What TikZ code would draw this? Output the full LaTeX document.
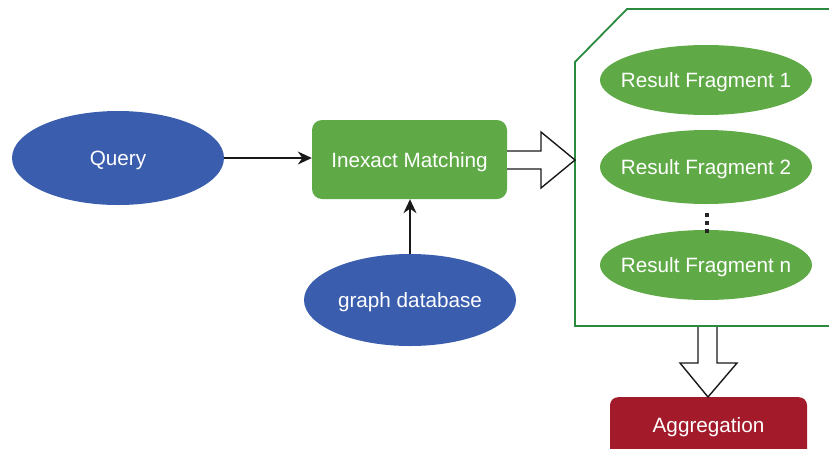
\documentclass[tikz,border=0pt]{standalone}
\usepackage{fontspec}
\setmainfont{Liberation Sans}
\usetikzlibrary{shapes.geometric,arrows.meta}
\definecolor{qblue}{HTML}{3A5DAE}
\definecolor{mgreen}{HTML}{5FAA46}
\definecolor{fgreen}{HTML}{2A8A3E}
\definecolor{agred}{HTML}{A31B2A}
\newcommand{\lowt}[1]{\raisebox{-2.5pt}[\height][\depth]{#1}}
\tikzset{
  txt/.style={text=white,font=\fontsize{20.7}{24}\selectfont},
  blueell/.style={ellipse,fill=qblue,inner sep=0pt,inner xsep=-14pt,minimum width=212pt,minimum height=94pt,txt},
  greenell/.style={ellipse,fill=mgreen,inner sep=0pt,inner xsep=-14pt,minimum width=212pt,minimum height=70pt,txt},
  greenbox/.style={rectangle,rounded corners=10pt,fill=mgreen,inner sep=0pt,minimum width=195pt,minimum height=79pt,txt},
  redbox/.style={rectangle,rounded corners=8pt,fill=agred,inner sep=0pt,minimum width=197pt,minimum height=78pt,txt},
  conn/.style={draw=black!90,line width=1.3pt,-{Stealth[length=14pt,width=13pt]}},
  hollow/.style={draw=black!90,line width=1.4pt,fill=white,line join=miter},
  frame/.style={draw=fgreen,line width=1.8pt}
}
\begin{document}
\begin{tikzpicture}[x=1pt,y=-1pt]
\useasboundingbox (0,0) rectangle (829,448);
% frame
\draw[frame] (836,9) -- (627,9) -- (575,62) -- (575,326) -- (836,326);
% nodes
\node[blueell] (query) at (118,158) {\lowt{Query}};
\node[greenbox] (match) at (409.5,159.5) {\lowt{Inexact Matching}};
\node[blueell,minimum height=92pt] (gdb) at (410,300) {\lowt{graph database}};
\node[greenell] (rf1) at (706,80) {\lowt{Result Fragment 1}};
\node[greenell,minimum height=74pt] (rf2) at (706,167) {\lowt{Result Fragment 2}};
\node[greenell] (rfn) at (706,265) {\lowt{Result Fragment n}};
\node[redbox,anchor=north] (agg) at (708.5,397) {};
\node[txt] (aggt) at (708.5,425) {\lowt{Aggregation}};
% dots
\foreach \yy/\nm in {215/d1,223/d2,231/d3}
  \node[fill=black!85,minimum size=4pt,inner sep=0pt] (\nm) at (707,\yy) {};
% connectors
\draw[conn] (query.east) -- (query.east -| match.west);
\draw[conn] (gdb.north) -- (gdb.north |- match.south);
% hollow arrows
\coordinate (h1) at (575,160);
\draw[hollow] (match.east |- 0,151) -- (541,151) -- (541,132) -- (h1) -- (541,188) -- (541,169) -- (match.east |- 0,169);
\coordinate (h2) at (708,397);
\draw[hollow] (698,327) -- (698,363) -- (680,363) -- (h2) -- (737,363) -- (717,363) -- (717,327);
\end{tikzpicture}
\end{document}
